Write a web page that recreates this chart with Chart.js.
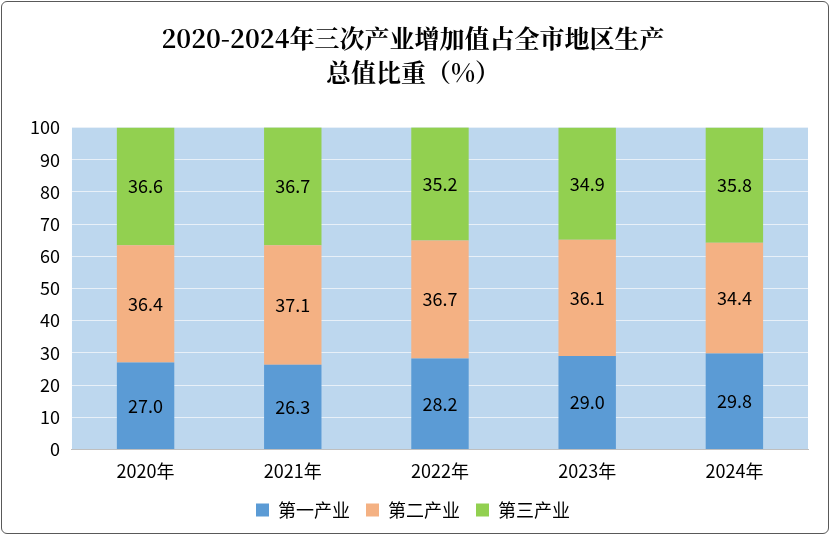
<!DOCTYPE html>
<html><head><meta charset="utf-8">
<script src="https://cdn.jsdelivr.net/npm/chart.js@4"></script>
<style>
html,body{margin:0;padding:0;background:#fff}
#wrap{position:absolute;left:1px;top:1px;width:828px;height:533px;border:1px solid #595959;border-radius:6px;box-sizing:border-box}
</style></head><body>
<div id="wrap"><canvas id="c" width="826" height="531"></canvas></div>
<script>
const categories=["2020年","2021年","2022年","2023年","2024年"];
const primary=[27.0,26.3,28.2,29.0,29.8];
const secondary=[36.4,37.1,36.7,36.1,34.4];
const tertiary=[36.6,36.7,35.2,34.9,35.8];
const yTicks=[0,10,20,30,40,50,60,70,80,90,100];
const bg={id:'bg',beforeDraw(ch){const a=ch.chartArea,c=ch.ctx;c.save();c.fillStyle='#BDD7EE';c.fillRect(a.left,a.top,a.right-a.left,a.bottom-a.top);c.restore();}};
const labels={id:'lbl',afterDatasetsDraw(ch){const c=ch.ctx;c.save();c.font='18px "Noto Sans CJK SC", sans-serif';c.fillStyle='#000';c.textAlign='center';c.textBaseline='middle';
ch.data.datasets.forEach((ds,i)=>{ch.getDatasetMeta(i).data.forEach((b,j)=>{c.fillText(ds.data[j].toFixed(1),b.x,(b.y+b.base)/2);});});c.restore();}};
new Chart(document.getElementById('c'),{type:'bar',
data:{labels:categories,datasets:[
{label:'第一产业',data:primary,backgroundColor:'#5B9BD5'},
{label:'第二产业',data:secondary,backgroundColor:'#F4B183'},
{label:'第三产业',data:tertiary,backgroundColor:'#92D050'}]},
options:{responsive:false,animation:false,layout:{padding:{left:16,right:20,top:0,bottom:4}},
datasets:{bar:{barPercentage:0.39,categoryPercentage:1}},
scales:{x:{stacked:true,grid:{display:false},border:{color:'#bfbfbf'},ticks:{color:'#000',font:{size:18,family:'"Noto Sans CJK SC", sans-serif'}}},
y:{stacked:true,min:0,max:100,afterBuildTicks(ax){ax.ticks=yTicks.map(v=>({value:v}));},grid:{color:'#e8f0f8',drawTicks:false},border:{display:false},ticks:{padding:12,color:'#000',font:{size:18,family:'"Noto Sans CJK SC", sans-serif'}}}},
plugins:{title:{display:true,text:['2020-2024年三次产业增加值占全市地区生产','总值比重（%）'],color:'#000',font:{size:25,weight:'bold',family:'"Noto Serif CJK SC","Noto Sans CJK SC",serif',lineHeight:1.35},padding:{top:20,bottom:38}},
legend:{position:'bottom',labels:{boxWidth:13,boxHeight:13,padding:16,color:'#000',font:{size:18,family:'"Noto Sans CJK SC", sans-serif'}}},tooltip:{enabled:false}}},
plugins:[bg,labels]});
</script></body></html>
